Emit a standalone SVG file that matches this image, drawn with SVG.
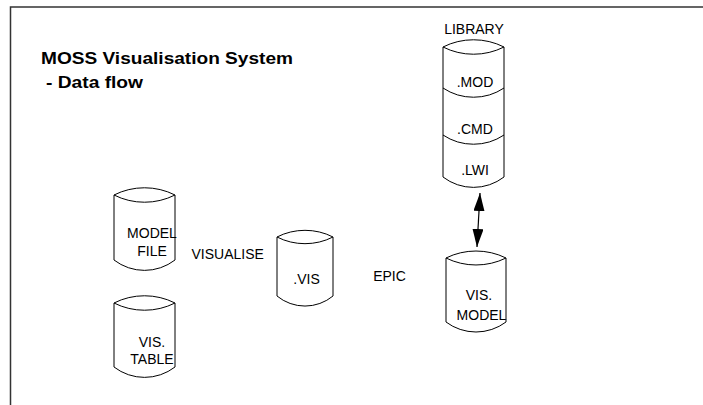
<svg xmlns="http://www.w3.org/2000/svg" width="703" height="405" viewBox="0 0 703 405">
<style>
.cyl{fill:#fff;stroke:#000;stroke-width:1}
.div{fill:none;stroke:#000;stroke-width:1}
.lbl{font-family:"Liberation Sans",Arial,sans-serif;font-size:14px;fill:#000;text-anchor:middle}
.ttl{font-family:"Liberation Sans",Arial,sans-serif;font-size:17px;font-weight:bold;fill:#000}
.frame{fill:none;stroke:#333;stroke-width:1.5}
.conn{stroke:#000;stroke-width:1.2;fill:none}
</style>
<defs>
<marker id="ah" viewBox="0 0 18 11" refX="18" refY="5.5" markerWidth="18" markerHeight="11" markerUnits="userSpaceOnUse" orient="auto-start-reverse">
<path d="M0,0 L18,5.5 L0,11 Z" fill="#000"/>
</marker>
</defs>
<rect width="703" height="405" fill="#fff"/>
<path class="frame" d="M10.5,405 L10.5,7 L703,7"/>
<g id="title">
<text class="ttl" x="41" y="63.5" textLength="252" lengthAdjust="spacingAndGlyphs">MOSS Visualisation System</text>
<text class="ttl" x="46" y="87.5" textLength="97" lengthAdjust="spacingAndGlyphs">- Data flow</text>
</g>
<g id="library">
<text class="lbl" x="474" y="33.5">LIBRARY</text>
<path class="cyl" d="M443,47 A68,68 0 0 1 504,47 L504,177 A50,50 0 0 1 443,177 Z"/>
<path class="div" d="M443,47 A68,68 0 0 0 504,47"/>
<path class="div" d="M443,88 A55,55 0 0 0 504,88"/>
<path class="div" d="M443,135 A55,55 0 0 0 504,135"/>
<text class="lbl" x="475" y="86.5">.MOD</text>
<text class="lbl" x="475" y="133.5">.CMD</text>
<text class="lbl" x="475" y="175">.LWI</text>
</g>
<g id="model-file">
<path class="cyl" d="M114,195 A68,68 0 0 1 175,195 L175,260 A50,50 0 0 1 114,260 Z"/>
<path class="div" d="M114,195 A68,68 0 0 0 175,195"/>
<text class="lbl" x="152" y="237.5">MODEL</text>
<text class="lbl" x="152" y="256">FILE</text>
</g>
<g id="vis-table">
<path class="cyl" d="M114,303 A68,68 0 0 1 175,303 L175,367 A50,50 0 0 1 114,367 Z"/>
<path class="div" d="M114,303 A68,68 0 0 0 175,303"/>
<text class="lbl" x="152" y="347">VIS.</text>
<text class="lbl" x="152" y="363.5">TABLE</text>
</g>
<g id="vis">
<path class="cyl" d="M277,237 A62,62 0 0 1 333,237 L333,296 A44,44 0 0 1 277,296 Z"/>
<path class="div" d="M277,237 A62,62 0 0 0 333,237"/>
<text class="lbl" x="306.5" y="283.5">.VIS</text>
</g>
<g id="vis-model">
<path class="cyl" d="M446,258 A68,68 0 0 1 506,258 L506,322 A50,50 0 0 1 446,322 Z"/>
<path class="div" d="M446,258 A68,68 0 0 0 506,258"/>
<text class="lbl" x="479" y="300">VIS.</text>
<text class="lbl" x="481.5" y="320">MODEL</text>
</g>
<g id="labels">
<text class="lbl" x="227.7" y="258.5">VISUALISE</text>
<text class="lbl" x="389.5" y="281">EPIC</text>
</g>
<g id="connectors">
<line class="conn" x1="480" y1="193" x2="477" y2="247" marker-start="url(#ah)" marker-end="url(#ah)"/>
</g>
</svg>
